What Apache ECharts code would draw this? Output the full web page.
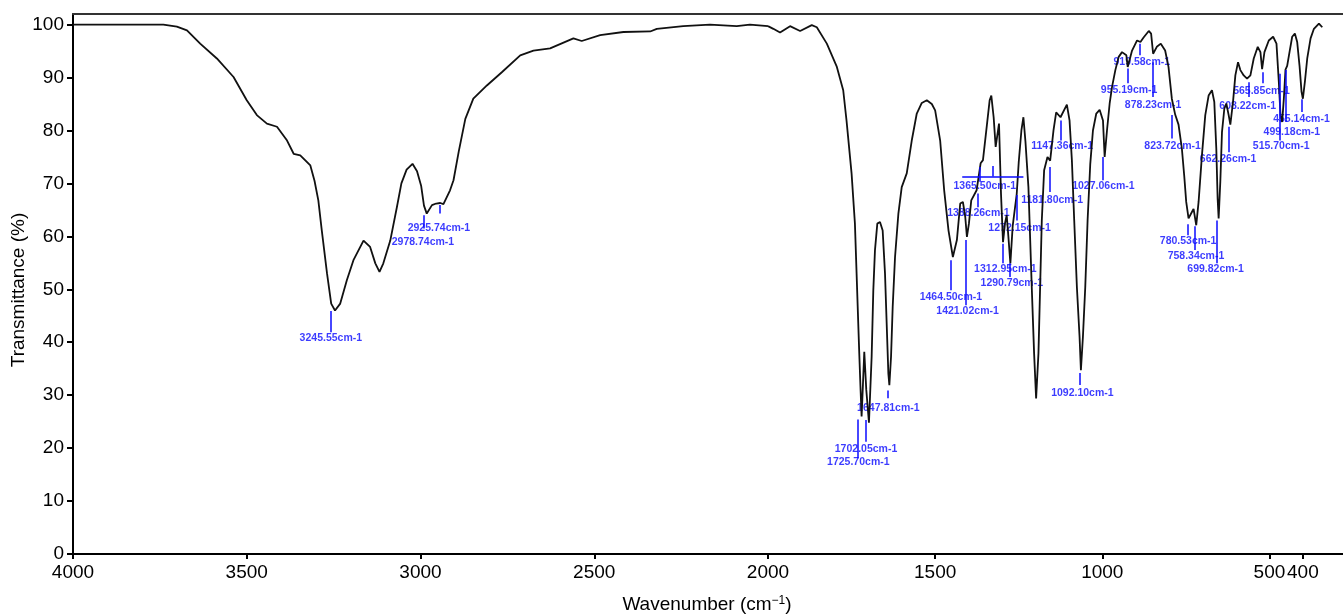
<!DOCTYPE html>
<html><head><meta charset="utf-8">
<script src="https://cdn.jsdelivr.net/npm/echarts@6/dist/echarts.min.js"></script>
<style>html,body{margin:0;padding:0;background:#fff}#c{width:1343px;height:616px}</style>
</head><body><div id="c"></div>
<script>
// Spectrum (wavenumber, cm-1 / transmittance, %)
const wavenumber = [4000,3740,3701,3672,3634,3586,3538,3500,3471,3442,3413,3384,3365,3346,3317,3305,3294,3284,3269,3257,3246,3231,3212,3193,3164,3145,3130,3118,3107,3087,3068,3055,3040,3023,3010,2998,2990,2982,2967,2955,2943,2934,2915,2905,2890,2871,2848,2809,2766,2713,2675,2627,2560,2536,2483,2416,2339,2320,2244,2167,2090,2052,2000,
1984,1964,1934,1904,1869,1854,1824,1794,1775,1765,1750,1740,1735,1730,1727,1723,1720,1716,1712,1706,1698,1690,1685,1680,1673,1665,1657,1650,1645,1640,1637,1632,1627,1620,1610,1600,1585,1570,1555,1540,1525,1510,1500,1485,1473,1460,1447,1435,1425,1417,1410,1405,1399,1392,1376,1364,1357,1347,1337,1332,1325,1319,1309,1303,1297,1291,1286,1281,1275,1268,1256,1250,1242,1236,1230,1221,1211,1204,1198,1191,1186,1181,1174,1164,1156,1146,1138,1125,1106,1098,1091,1084,1076,1068,1064,1058,1051,1044,1036,1028,1018,1008,998,993,986,978,971,961,951,941,928,924,911,896,886,876,861,854,848,837,825,812,802,792,782,772,762,755,749,742,732,727,719,712,702,692,682,672,665,659,655,652,647,642,635,629,622,617,609,602,594,587,577,567,557,547,535,527,522,515,502,489,479,472,467,462,457,452,447,440,432,424,417,410,404,400,394,387,377,367,352,342];
const transmittance = [100.0,100.0,99.6,98.9,96.4,93.6,90.1,85.7,82.9,81.3,80.7,78.1,75.6,75.3,73.4,70.5,66.8,61.1,53.0,47.3,46.0,47.3,51.7,55.5,59.2,58.0,54.9,53.3,54.9,59.2,65.5,70.0,72.6,73.7,72.3,69.5,65.8,64.3,65.9,66.2,66.3,66.1,68.7,70.6,76.0,82.2,86.0,88.5,91.0,94.2,95.1,95.5,97.4,96.9,98.0,98.6,98.7,99.2,99.7,100.0,99.7,100.0,99.7,
99.2,98.5,99.7,98.8,99.9,99.5,96.4,92.0,87.6,81.8,71.9,62.4,53.0,43.5,37.9,30.9,26.0,32.0,38.2,31.0,24.8,37.2,49.8,57.4,62.4,62.7,61.1,53.0,43.5,34.1,31.9,37.2,46.7,56.1,64.3,69.3,71.9,78.1,83.2,85.2,85.7,85.0,83.8,78.1,68.7,61.1,56.1,59.3,66.2,66.5,63.7,59.9,62.4,66.8,68.7,73.8,74.4,80.0,85.7,86.6,82.5,76.9,81.3,68.0,58.9,62.5,64.0,60.0,54.9,62.0,68.0,74.0,80.0,82.5,78.0,69.3,50.4,37.9,29.4,37.9,50.4,63.0,72.5,75.0,74.3,80.0,83.4,82.5,84.9,81.9,74.4,63.0,50.4,41.0,34.7,41.0,50.4,63.0,73.7,80.0,83.2,83.9,81.9,75.0,80.0,85.1,88.2,91.4,93.9,94.8,94.2,92.0,95.1,97.0,96.7,97.6,98.8,98.3,94.5,95.8,96.4,95.1,92.0,86.0,83.0,81.1,76.6,71.5,66.5,63.4,64.6,65.2,62.1,66.5,75.3,82.9,86.6,87.6,85.4,76.6,67.1,63.4,70.3,79.7,84.1,85.1,82.9,81.1,85.4,90.4,92.9,91.4,90.4,89.8,90.4,93.6,95.8,94.8,91.6,94.8,97.0,97.7,96.4,89.2,82.9,81.6,86.0,91.5,92.2,94.8,97.7,98.3,96.7,92.2,87.3,86.0,89.2,93.6,97.4,99.2,100.2,99.5];

// Axis ticks (the picture's axis changes scale at 2000 cm-1)
const xTicksHigh = [4000,3500,3000,2500,2000];
const xTicksLow = [1500,1000,500,400];
const yTicks = [0,10,20,30,40,50,60,70,80,90,100];

// Peak annotations
const peakLabels = ['3245.55cm-1','2978.74cm-1','2925.74cm-1','1725.70cm-1','1702.05cm-1','1647.81cm-1','1464.50cm-1','1421.02cm-1','1388.26cm-1','1365.50cm-1','1312.95cm-1','1290.79cm-1','1272.15cm-1','1181.80cm-1','1147.36cm-1','1092.10cm-1','1027.06cm-1','955.19cm-1','919.58cm-1','878.23cm-1','823.72cm-1','780.53cm-1','758.34cm-1','699.82cm-1','662.26cm-1','608.22cm-1','565.85cm-1','515.70cm-1','499.18cm-1','455.14cm-1'];
const peakMarkX = [3257,2989.5,2945.5,1730.7,1706.8,1643,1453.9,1408.4,1373.7,1365.7,1297.7,1275.9,1255.8,1156.2,1124.2,1066.4,999.7,924.9,886.9,850.1,792,745.4,723.2,658.6,622.7,562.8,520.9,468.0,452.1,403.1];
const peakMarkTop = [45.9,64.0,65.9,25.4,25.3,30.9,55.5,59.3,68.1,73.1,58.6,54.9,67.8,73.1,81.9,34.2,75.0,91.7,96.4,92.9,82.9,62.3,61.9,63.0,80.7,89.1,91.0,90.7,91.4,85.9];
const peakMarkBottom = [41.9,61.5,64.3,18.1,21.2,29.4,49.8,47.0,65.5,70.3,54.9,52.3,63.0,68.4,78.1,31.9,70.6,88.9,94.2,86.3,78.5,60.2,57.4,54.9,75.9,86.3,88.9,78.1,81.6,83.5];
const peakTextX = [3258,2993,2947,1729.8,1706.8,1640,1453,1403,1370.7,1351.6,1290,1270.8,1247.4,1150.2,1120.3,1059.6,996.7,919.8,881.8,848,789.6,743.3,719.9,661,623.6,565.2,523.9,465,433,404.3];
const peakTextY = [40.8,58.9,61.5,17.3,19.8,27.5,48.5,45.9,64.3,69.5,53.9,51.1,61.5,66.8,77.0,30.3,69.5,87.6,92.9,84.8,77.1,59.1,56.3,53.9,74.5,84.6,87.5,77.1,79.7,82.2];
// Leader segments of the illegible, overprinted label near 1330 cm-1
const leaderFrom = [[1419, 71.3], [1327, 73.3]];
const leaderTo = [[1236, 71.3], [1327, 71.3]];

const BLUE = '#0a0aff';
const FONT = "'Liberation Sans', Arial, Helvetica, sans-serif";

const pts = wavenumber.map((w, i) => [w, transmittance[i]]);
const high = pts.filter(p => p[0] >= 2000);
const low = pts.filter(p => p[0] <= 2000);

function marks(isHigh) {
  const out = [];
  peakMarkX.forEach((x, i) => {
    if ((x >= 2000) === isHigh) out.push([{coord: [x, peakMarkTop[i]]}, {coord: [x, peakMarkBottom[i]]}]);
  });
  if (!isHigh) leaderFrom.forEach((a, i) => out.push([{coord: a}, {coord: leaderTo[i]}]));
  return out;
}
function texts(isHigh) {
  const out = [];
  peakTextX.forEach((x, i) => {
    if ((x >= 2000) === isHigh) out.push({name: peakLabels[i], value: [x, peakTextY[i]]});
  });
  return out;
}
function lineSeries(idx, data, isHigh) {
  return {
    type: 'line', xAxisIndex: idx, yAxisIndex: idx, data: data,
    showSymbol: false, symbol: 'none', smooth: false, silent: true, clip: false,
    lineStyle: {color: '#111', width: 1.8},
    markLine: {silent: true, symbol: ['none', 'none'], label: {show: false},
      lineStyle: {color: BLUE, width: 1.5, type: 'solid'}, data: marks(isHigh), animation: false}
  };
}
function labelSeries(idx, isHigh) {
  return {
    type: 'scatter', xAxisIndex: idx, yAxisIndex: idx, data: texts(isHigh),
    symbolSize: 0, silent: true, clip: false, itemStyle: {color: 'transparent'},
    label: {show: true, position: 'inside', formatter: '{b}', color: BLUE,
      fontFamily: FONT, fontSize: 10.5, fontWeight: 'bold'}
  };
}
const plain = v => String(v);
const axisBlack = {show: true, onZero: false, lineStyle: {color: '#000', width: 2}};
const labelStyle = {color: '#000', fontSize: 19, fontFamily: FONT, formatter: plain};

const chart = echarts.init(document.getElementById('c'), null, {renderer: 'canvas'});
chart.setOption({
  animation: false,
  backgroundColor: '#fff',
  grid: [
    {left: 73, top: 14, width: 695, bottom: 62, containLabel: false, outerBoundsMode: 'none'},
    {left: 768, top: 14, right: 0, bottom: 62, containLabel: false, outerBoundsMode: 'none'}
  ],
  xAxis: [
    {gridIndex: 0, type: 'value', min: 2000, max: 4000, interval: 500, inverse: true,
      axisLine: axisBlack, axisTick: {show: true, inside: false, length: 5, customValues: xTicksHigh, lineStyle: {color: '#000', width: 2}},
      axisLabel: Object.assign({margin: 9, customValues: xTicksHigh}, labelStyle), splitLine: {show: false}},
    {gridIndex: 1, type: 'value', min: 280, max: 2000, inverse: true,
      axisLine: axisBlack, axisTick: {show: true, length: 5, customValues: xTicksLow, lineStyle: {color: '#000', width: 2}},
      axisLabel: Object.assign({margin: 9, customValues: xTicksLow}, labelStyle), splitLine: {show: false}},
    {gridIndex: 0, type: 'value', position: 'top', min: 2000, max: 4000, inverse: true,
      axisLine: {show: true, onZero: false, lineStyle: {color: '#333', width: 2}}, axisTick: {show: false}, axisLabel: {show: false}, splitLine: {show: false}},
    {gridIndex: 1, type: 'value', position: 'top', min: 280, max: 2000, inverse: true,
      axisLine: {show: true, onZero: false, lineStyle: {color: '#333', width: 2}}, axisTick: {show: false}, axisLabel: {show: false}, splitLine: {show: false}}
  ],
  yAxis: [
    {gridIndex: 0, type: 'value', min: 0, max: 102,
      axisLine: axisBlack,
      axisTick: {show: true, length: 6, customValues: yTicks, lineStyle: {color: '#000', width: 2}},
      axisLabel: Object.assign({margin: 9, customValues: yTicks}, labelStyle), splitLine: {show: false}},
    {gridIndex: 1, type: 'value', min: 0, max: 102, show: false, splitLine: {show: false}}
  ],
  graphic: [{
    type: 'text', x: 707, y: 605,
    style: {
      text: '{a|Wavenumber (cm}{s|−1}{a|)}', align: 'center', verticalAlign: 'middle',
      rich: {a: {fontSize: 19, fontFamily: FONT, fill: '#000', color: '#000'},
             s: {fontSize: 12, fontFamily: FONT, fill: '#000', color: '#000', padding: [0, 0, 9, 0]}}
    }
  }, {
    type: 'text', x: 19, y: 290, rotation: Math.PI / 2,
    style: {text: 'Transmittance (%)', align: 'center', verticalAlign: 'middle',
      fontSize: 19, fontFamily: FONT, fill: '#000'}
  }],
  series: [
    lineSeries(0, high, true),
    lineSeries(1, low, false),
    labelSeries(0, true),
    labelSeries(1, false)
  ]
});
</script>
</body></html>
